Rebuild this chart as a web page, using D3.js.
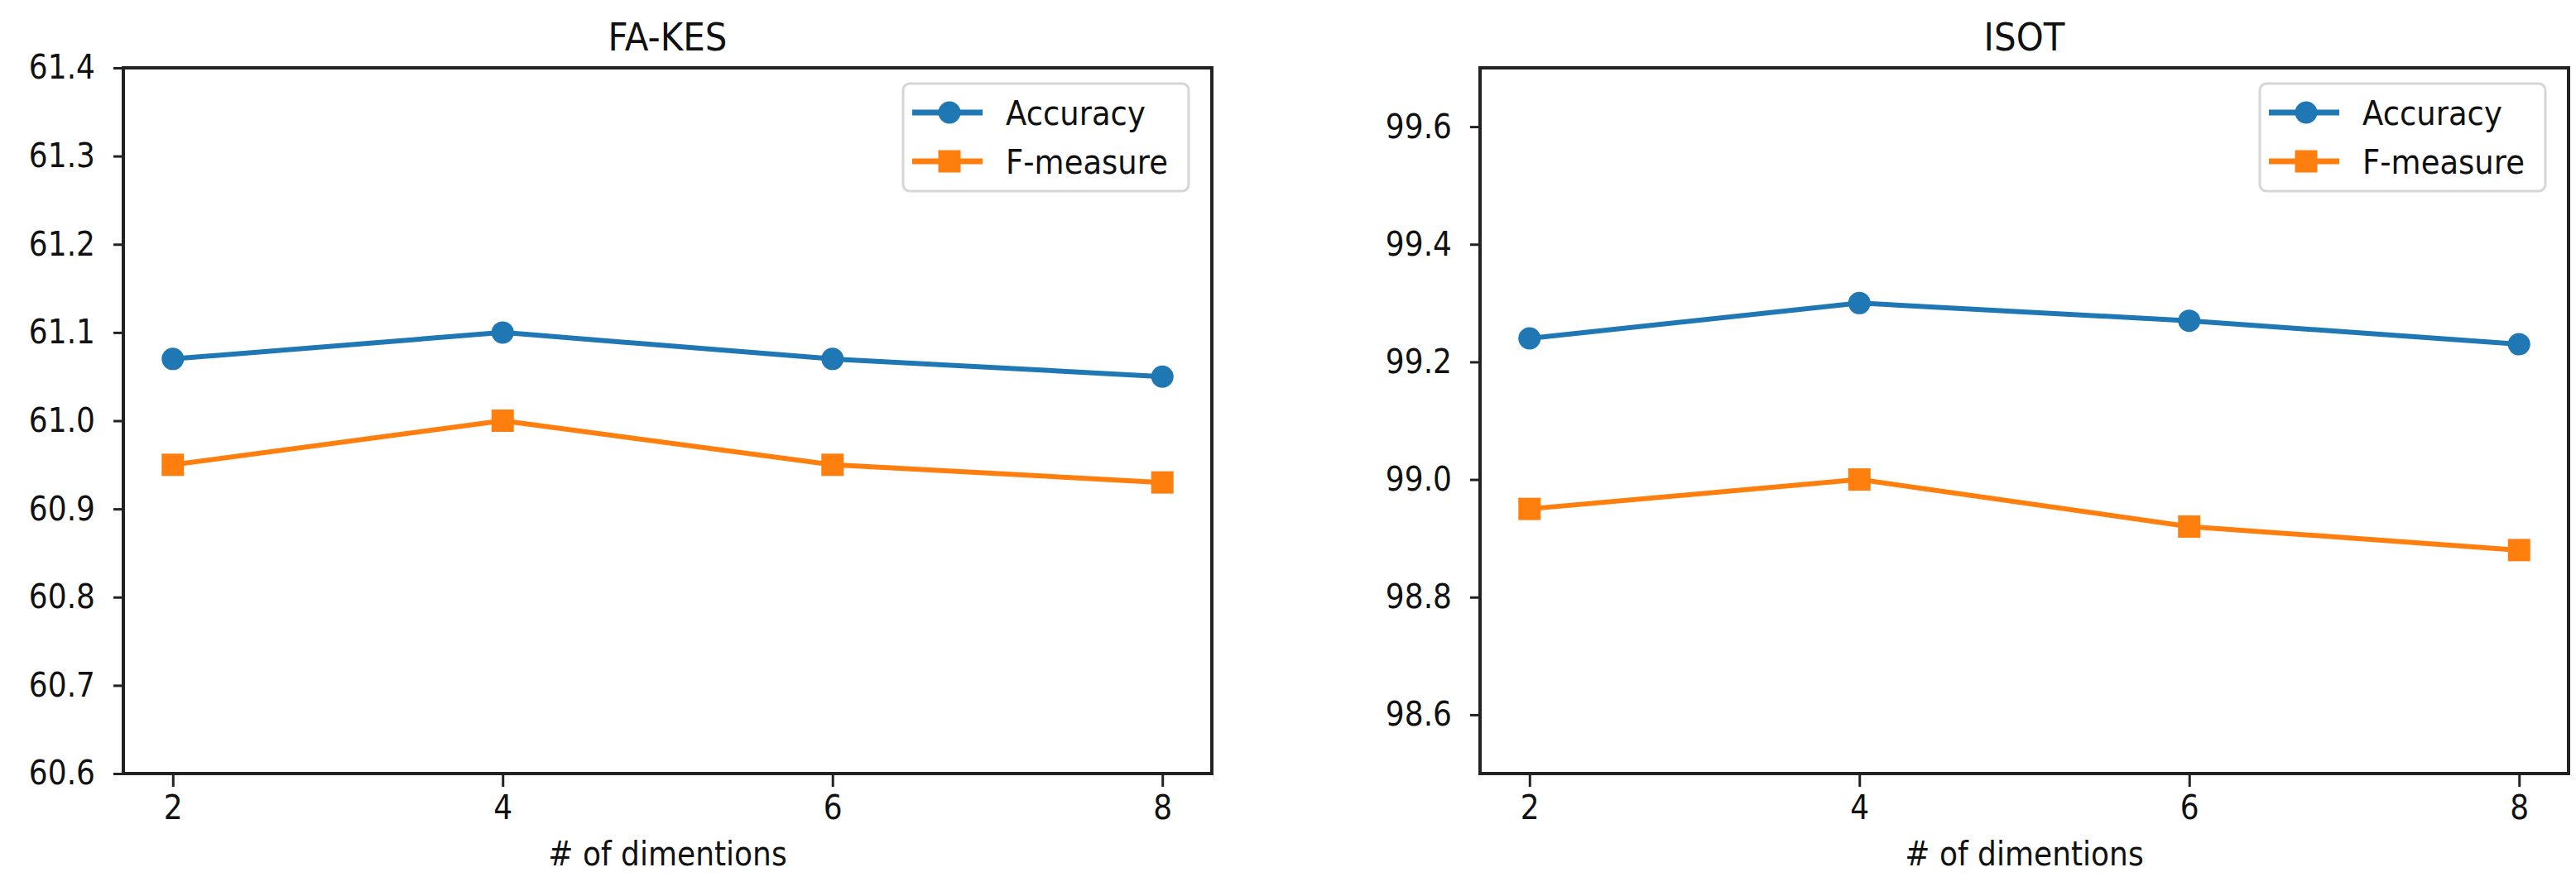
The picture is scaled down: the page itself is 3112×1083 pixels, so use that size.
<!DOCTYPE html>
<html>
<head>
<meta charset="utf-8">
<script src="https://cdn.jsdelivr.net/npm/d3@7"></script>
<style>
body { margin: 0; background: white; }
text { font-family: "DejaVu Sans", sans-serif; fill: #111; }
.stretch { transform-box: fill-box; transform-origin: center; transform: scaleY(1.12); }
</style>
</head>
<body>
<script>
// values
var dims = [2, 4, 6, 8]
var series_names = ["Accuracy", "F-measure"]
var fakes_acc = [61.07, 61.10, 61.07, 61.05]
var fakes_f = [60.95, 61.00, 60.95, 60.93]
var isot_acc = [99.24, 99.30, 99.27, 99.23]
var isot_f = [98.95, 99.00, 98.92, 98.88]
var fakes_ticks = [60.6, 60.7, 60.8, 60.9, 61.0, 61.1, 61.2, 61.3, 61.4]
var isot_ticks = [98.6, 98.8, 99.0, 99.2, 99.4, 99.6]
var x_ticks = [2, 4, 6, 8]

svg_w = 3112
svg_h = 1083
var svg = d3.select("body")
        .append("svg")
        .attr("width", svg_w)
        .attr("height", svg_h)
        .style("display", "block");

var colors = ["#1f77b4", "#ff7f0e"]
var top_y = 82, bot_y = 935, panel_w = 1315

draw_panel(149, "FA-KES", fakes_acc, fakes_f, [60.6, 61.4], fakes_ticks)
draw_panel(1788, "ISOT", isot_acc, isot_f, [98.5, 99.7], isot_ticks)

function draw_panel(left, title, acc, fm, ydom, yticks) {
    var g = svg.append("g")
    var xscale = d3.scaleLinear().domain([1.7, 8.3]).range([left, left + panel_w]);
    var yscale = d3.scaleLinear().domain(ydom).range([bot_y, top_y]);

    // axes
    var yaxis = g.append("g")
        .attr("transform", "translate(" + left + ",0)")
        .call(d3.axisLeft(yscale).tickValues(yticks).tickFormat(d3.format(".1f"))
              .tickSize(12).tickPadding(22).tickSizeOuter(0))
    var xaxis = g.append("g")
        .attr("transform", "translate(0," + bot_y + ")")
        .call(d3.axisBottom(xscale).tickValues(x_ticks).tickFormat(d3.format("d"))
              .tickSize(16).tickPadding(12).tickSizeOuter(0))
    g.selectAll(".domain").remove()
    g.selectAll(".tick line").attr("stroke", "#222").attr("stroke-width", 3)
    g.selectAll(".tick text").attr("font-size", 36).attr("fill", "#111").attr("class", "stretch")

    // frame
    g.append("rect")
        .attr("x", left).attr("y", top_y)
        .attr("width", panel_w).attr("height", bot_y - top_y)
        .attr("fill", "none").attr("stroke", "#222").attr("stroke-width", 4)

    // title and x label
    g.append("text").attr("class", "stretch")
        .attr("x", left + panel_w / 2).attr("y", 59)
        .attr("text-anchor", "middle").attr("font-size", 42)
        .text(title)
    g.append("text").attr("class", "stretch")
        .attr("x", left + panel_w / 2).attr("y", 1045)
        .attr("text-anchor", "middle").attr("font-size", 36)
        .text("# of dimentions")

    // lines
    var all = [acc, fm]
    var line = d3.line().x((d, i) => xscale(dims[i])).y(d => yscale(d))
    for (let k = 0; k < all.length; k++) {
        g.append("path")
            .attr("d", line(all[k]))
            .attr("fill", "none")
            .attr("stroke", colors[k])
            .attr("stroke-width", 6)
    }
    g.selectAll("circle.acc")
        .data(acc)
        .enter()
        .append("circle")
        .attr("cx", (d, i) => xscale(dims[i]))
        .attr("cy", d => yscale(d))
        .attr("r", 13.5)
        .attr("fill", colors[0])
    g.selectAll("rect.fm")
        .data(fm)
        .enter()
        .append("rect")
        .attr("x", (d, i) => xscale(dims[i]) - 13.5)
        .attr("y", d => yscale(d) - 13.5)
        .attr("width", 27).attr("height", 27)
        .attr("fill", colors[1])

    // legend
    var lx = left + panel_w - 373, ly = top_y + 19
    var lg = g.append("g").attr("transform", "translate(" + lx + "," + ly + ")")
    lg.append("rect")
        .attr("width", 345).attr("height", 130)
        .attr("rx", 8)
        .attr("fill", "white").attr("fill-opacity", 0.8)
        .attr("stroke", "#d6d6d6").attr("stroke-width", 3)
    for (let k = 0; k < series_names.length; k++) {
        var ry = 35 + k * 59
        lg.append("line")
            .attr("x1", 11).attr("x2", 96)
            .attr("y1", ry).attr("y2", ry)
            .attr("stroke", colors[k]).attr("stroke-width", 7)
        if (k == 0) {
            lg.append("circle").attr("cx", 56).attr("cy", ry).attr("r", 13.5).attr("fill", colors[k])
        } else {
            lg.append("rect").attr("x", 42.5).attr("y", ry - 13.5).attr("width", 27).attr("height", 27).attr("fill", colors[k])
        }
        lg.append("text").attr("class", "stretch")
            .attr("x", 124).attr("y", ry).attr("dy", "0.36em")
            .attr("font-size", 37)
            .text(series_names[k])
    }
}
</script>
</body>
</html>
